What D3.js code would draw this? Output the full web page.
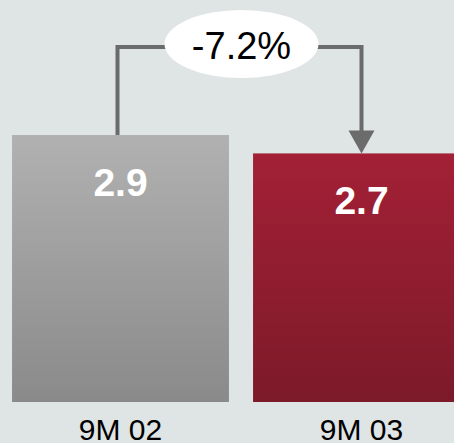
<!DOCTYPE html>
<html>
<head>
<meta charset="utf-8">
<script src="https://cdn.jsdelivr.net/npm/d3@7"></script>
<style>
  html, body { margin: 0; padding: 0; background: #dfe4e4; }
  svg { display: block; font-family: Arial, "Liberation Sans", sans-serif; }
</style>
</head>
<body>
<svg id="chart" width="454" height="443"></svg>
<script>
// Period labels and values
const categories = ["9M 02", "9M 03"];
const values = [2.9, 2.7];
const valueLabels = ["2.9", "2.7"];
const changeLabel = "-7.2%";

const W = 454, H = 443;
const svg = d3.select("#chart");

svg.append("rect").attr("width", W).attr("height", H).attr("fill", "#dfe4e4");

const x = d3.scaleBand().domain(categories).range([0, 482]).paddingInner(0.1).paddingOuter(0.05);
const y = d3.scaleLinear().domain([0, 2.9]).range([402, 135]);

const defs = svg.append("defs");
const grads = [
  { id: "gGray", top: "#b1b1b1", bottom: "#8a8a8a" },
  { id: "gRed", top: "#a32036", bottom: "#7c1a29" }
];
grads.forEach(g => {
  const lg = defs.append("linearGradient").attr("id", g.id)
    .attr("x1", 0).attr("y1", 0).attr("x2", 0).attr("y2", 1);
  lg.append("stop").attr("offset", "0%").attr("stop-color", g.top);
  lg.append("stop").attr("offset", "100%").attr("stop-color", g.bottom);
});

// Bars
svg.selectAll("rect.bar").data(categories).enter().append("rect")
  .attr("class", "bar")
  .attr("x", d => x(d))
  .attr("width", x.bandwidth())
  .attr("y", (d, i) => y(values[i]))
  .attr("height", (d, i) => y(0) - y(values[i]))
  .attr("fill", (d, i) => `url(#${grads[i].id})`);

// Value labels inside bars
svg.selectAll("text.val").data(categories).enter().append("text")
  .attr("class", "val")
  .attr("x", d => x(d) + x.bandwidth() / 2)
  .attr("y", (d, i) => y(values[i]) + 61)
  .attr("text-anchor", "middle")
  .attr("fill", "#ffffff")
  .attr("font-weight", "bold")
  .attr("font-size", 39)
  .text((d, i) => valueLabels[i]);

// Category labels
svg.selectAll("text.cat").data(categories).enter().append("text")
  .attr("class", "cat")
  .attr("x", d => x(d) + x.bandwidth() / 2)
  .attr("y", 440)
  .attr("text-anchor", "middle")
  .attr("fill", "#000000")
  .attr("font-size", 30)
  .text(d => d);

// Change bracket from first bar to second bar
const cx0 = x(categories[0]) + x.bandwidth() / 2 - 3;
const cx1 = x(categories[1]) + x.bandwidth() / 2;
const bracketY = 47;
const arrowH = 23, arrowW = 26;
svg.append("path")
  .attr("d", `M${cx0},${y(values[0])} V${bracketY} H${cx1} V${y(values[1]) - arrowH + 1}`)
  .attr("fill", "none")
  .attr("stroke", "#6b6b6b")
  .attr("stroke-width", 4);
svg.append("path")
  .attr("d", `M${cx1 - arrowW / 2},${y(values[1]) - arrowH} L${cx1 + arrowW / 2},${y(values[1]) - arrowH} L${cx1},${y(values[1])} Z`)
  .attr("fill", "#6b6b6b");

// Change bubble
const bx = (cx0 + cx1) / 2 + 2;
svg.append("ellipse")
  .attr("cx", bx).attr("cy", 44)
  .attr("rx", 77).attr("ry", 34)
  .attr("fill", "#ffffff");
svg.append("text")
  .attr("x", bx).attr("y", 59)
  .attr("text-anchor", "middle")
  .attr("font-size", 38)
  .attr("fill", "#000000")
  .text(changeLabel);
</script>
</body>
</html>
